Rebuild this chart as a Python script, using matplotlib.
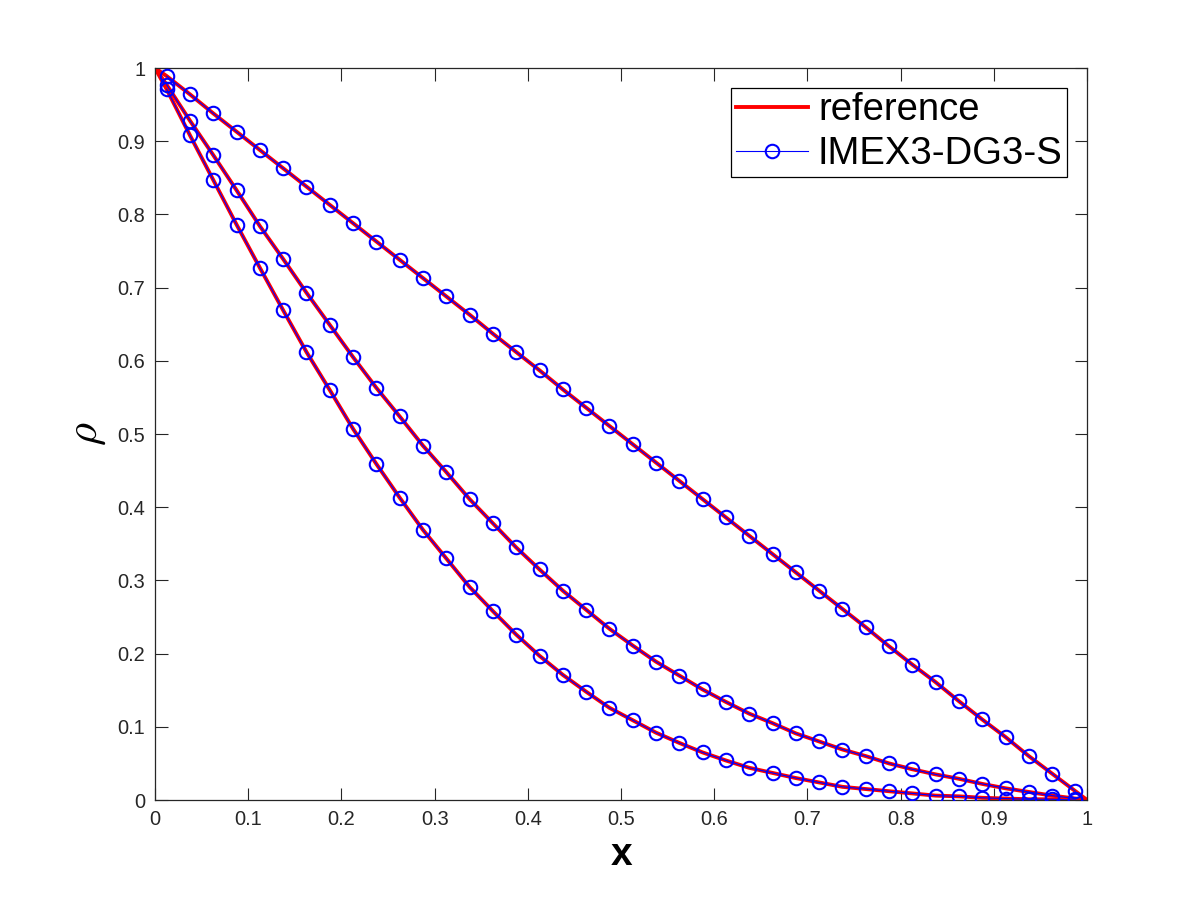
import matplotlib
matplotlib.use("Agg")
import matplotlib.pyplot as plt

plt.rcParams['font.family'] = ['Liberation Sans', 'DejaVu Sans']
plt.rcParams['mathtext.fontset'] = 'cm'

# cell centres of the DG mesh
x = [0.0125, 0.0375, 0.0625, 0.0875, 0.1125, 0.1375, 0.1625, 0.1875, 0.2125, 0.2375,
     0.2625, 0.2875, 0.3125, 0.3375, 0.3625, 0.3875, 0.4125, 0.4375, 0.4625, 0.4875,
     0.5125, 0.5375, 0.5625, 0.5875, 0.6125, 0.6375, 0.6625, 0.6875, 0.7125, 0.7375,
     0.7625, 0.7875, 0.8125, 0.8375, 0.8625, 0.8875, 0.9125, 0.9375, 0.9625, 0.9875]

# three profiles of rho
rho_a = [0.989, 0.964, 0.938, 0.913, 0.888, 0.863, 0.838, 0.813, 0.788, 0.763,
         0.738, 0.713, 0.688, 0.663, 0.637, 0.612, 0.587, 0.561, 0.536, 0.511,
         0.486, 0.461, 0.436, 0.411, 0.386, 0.361, 0.336, 0.311, 0.286, 0.261,
         0.236, 0.210, 0.185, 0.161, 0.135, 0.110, 0.086, 0.060, 0.036, 0.012]
rho_b = [0.977, 0.928, 0.881, 0.833, 0.784, 0.739, 0.693, 0.649, 0.605, 0.563,
         0.524, 0.484, 0.448, 0.411, 0.378, 0.345, 0.315, 0.286, 0.260, 0.234,
         0.211, 0.189, 0.170, 0.151, 0.134, 0.118, 0.105, 0.091, 0.080, 0.069,
         0.060, 0.050, 0.042, 0.035, 0.029, 0.022, 0.016, 0.011, 0.006, 0.002]
rho_c = [0.971, 0.908, 0.847, 0.786, 0.727, 0.669, 0.612, 0.560, 0.507, 0.459,
         0.413, 0.369, 0.330, 0.291, 0.258, 0.226, 0.197, 0.171, 0.148, 0.126,
         0.109, 0.092, 0.078, 0.065, 0.054, 0.044, 0.037, 0.030, 0.024, 0.018,
         0.015, 0.012, 0.009, 0.006, 0.005, 0.003, 0.002, 0.001, 0.001, 0.000]

# boundary values for the reference curves
x_left, x_right = 0.0, 1.0
rho_left, rho_right = 1.0, 0.0

fig = plt.figure(figsize=(12, 9), dpi=100)
ax = fig.add_axes([0.1292, 0.1111, 0.7767, 0.8133])

xr = [x_left] + x + [x_right]
for k, rho in enumerate([rho_a, rho_b, rho_c]):
    rr = [rho_left] + rho + [rho_right]
    ax.plot(xr, rr, color='r', linewidth=2.8, label='reference' if k == 0 else None, zorder=2)
    ax.plot(x, rho, color='b', linewidth=0.8, marker='o', markersize=9.7,
            markerfacecolor='none', markeredgewidth=1.5,
            label='IMEX3-DG3-S' if k == 0 else None, zorder=3)

ax.set_xlim(0, 1)
ax.set_ylim(0, 1)
ax.set_xticks([0, 0.1, 0.2, 0.3, 0.4, 0.5, 0.6, 0.7, 0.8, 0.9, 1])
ax.set_yticks([0, 0.1, 0.2, 0.3, 0.4, 0.5, 0.6, 0.7, 0.8, 0.9, 1])
ax.set_xticklabels(['0', '0.1', '0.2', '0.3', '0.4', '0.5', '0.6', '0.7', '0.8', '0.9', '1'])
ax.set_yticklabels(['0', '0.1', '0.2', '0.3', '0.4', '0.5', '0.6', '0.7', '0.8', '0.9', '1'])
ax.tick_params(direction='in', length=9, width=0.8, top=True, right=True,
               labelsize=14.4, colors='#262626', pad=7)
for s in ax.spines.values():
    s.set_linewidth(0.9)
    s.set_color('#262626')

ax.set_xlabel('x', fontsize=28, fontweight='bold', labelpad=6)
ax.set_ylabel(r'$\rho$', fontsize=32, labelpad=7)

leg = ax.legend(loc='upper right', fontsize=27.5, fancybox=False, edgecolor='k',
                framealpha=1, handlelength=1.9, handletextpad=0.25,
                labelspacing=0.2, borderpad=0.12, borderaxespad=0.52)
leg.get_frame().set_linewidth(0.9)

fig.savefig('out.png', dpi=100)
